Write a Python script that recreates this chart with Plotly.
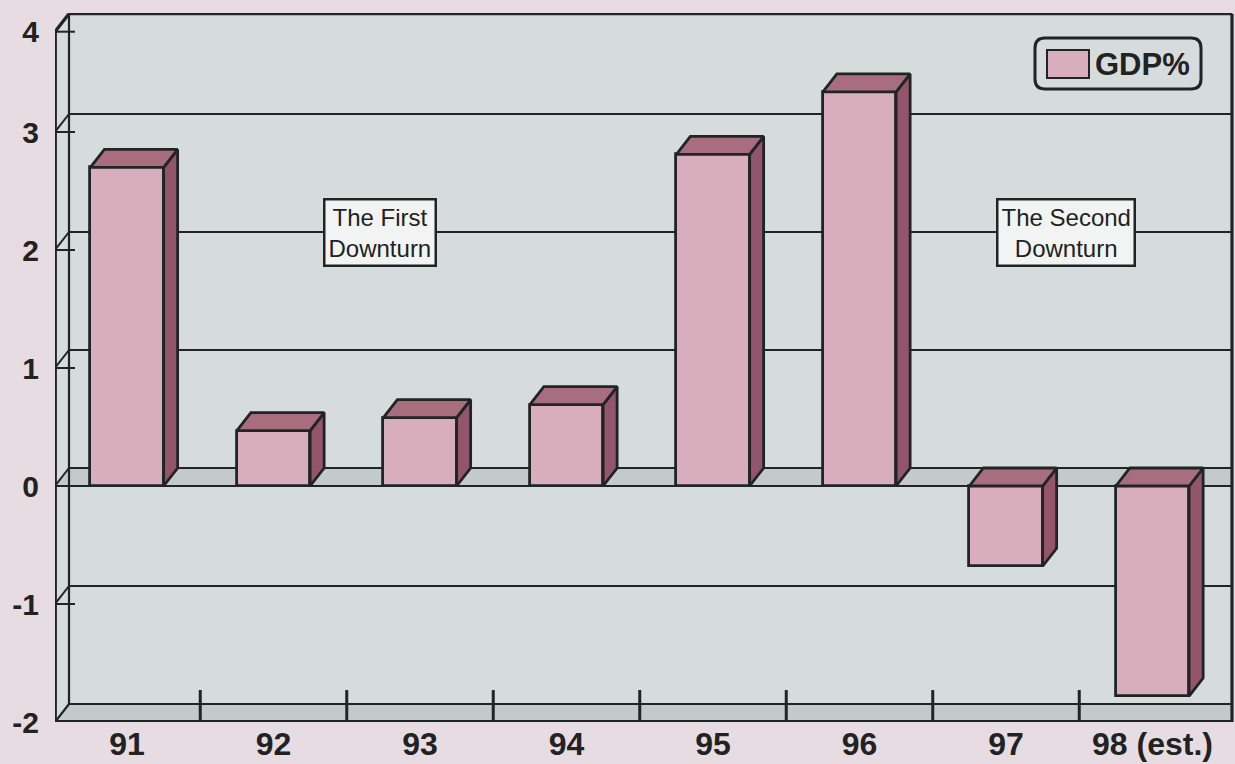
import plotly.graph_objects as go

# ---------------- data ----------------
categories = ["91", "92", "93", "94", "95", "96", "97", "98 (est.)"]
gdp_pct = [2.70, 0.47, 0.58, 0.69, 2.81, 3.34, -0.68, -1.78]
# the original chart prints its top label "4" at the top of the frame (3.85 on its scale)
y_tick_values = [-2, -1, 0, 1, 2, 3, 3.85]
y_tick_labels = ["-2", "-1", "0", "1", "2", "3", "4"]
series_name = "GDP%"
note_texts = ["The First<br>Downturn", "The Second<br>Downturn"]
note_x = [1.73, 6.41]
note_level = 2

# ---------------- geometry ----------------
W, H = 1235, 764
ML, MR, MT, MB = 55, 0, 13, 42
PW, PH = W - ML - MR, H - MT - MB
PX_PER_CAT = 146.5
PX_PER_UNIT = 118.0
CAT0_PX = 127 - ML
x_range = [-CAT0_PX / PX_PER_CAT, (PW - CAT0_PX) / PX_PER_CAT]
y_range = [-2, -2 + PH / PX_PER_UNIT]
DX = 14 / PX_PER_CAT
DY = 18 / PX_PER_UNIT
XL = x_range[0]
XR = (1232 - 127) / PX_PER_CAT
YB = y_tick_values[0]
YT = y_tick_values[-1]
BAR_W = 0.5

PAPER = "#E8DCE3"
WALL = "#D6DBDC"
BAND = "#C4CACA"
LINE = "#202424"
FRONT = "#D8AEBC"
TOP = "#A96D80"
SIDE = "#92556A"
FONT = "Liberation Sans, Arial, sans-serif"

shapes = []


def poly(pts, fill, lw=0, ref="x"):
    d = "M " + " L ".join(f"{x},{y}" for x, y in pts) + " Z"
    shapes.append(dict(type="path", path=d, xref=ref, yref=ref.replace("x", "y"),
                       fillcolor=fill, line=dict(width=lw, color=LINE),
                       layer="below"))


def seg(x0, y0, x1, y1, w=2.0):
    shapes.append(dict(type="line", x0=x0, y0=y0, x1=x1, y1=y1, xref="x", yref="y",
                       line=dict(color=LINE, width=w), layer="below"))


# walls
poly([(XL, YB), (XL, YT), (XL + DX, YT + DY), (XR, YT + DY), (XR, YB)], WALL)
# floor
poly([(XL, YB), (XR, YB), (XR, YB + DY), (XL + DX, YB + DY)], BAND)
# zero plane
poly([(XL, 0), (XR, 0), (XR, DY), (XL + DX, DY)], BAND)

# gridlines on back wall and left wall diagonals / ticks
for k in y_tick_values[1:-1]:
    seg(XL + DX, k + DY, XR, k + DY, 2.2)
    seg(XL, k, XL + DX, k + DY, 2.0)
    seg(XL, k, XL + 20 / PX_PER_CAT, k, 2.0)
# zero front line
seg(XL, 0, XR, 0, 2.2)
# box edges
seg(XL + DX, YB + DY, XL + DX, YT + DY, 2.2)
seg(XL, YB, XL + DX, YB + DY, 2.2)
seg(XL, YT, XL + DX, YT + DY, 3.2)
seg(XL, YT, XL + 20 / PX_PER_CAT, YT, 2.0)
seg(XL + DX, YT + DY, XR, YT + DY, 3.2)
seg(XR, YB, XR, YT + DY, 3.2)
seg(XL + DX, YB + DY, XR, YB + DY, 2.2)
seg(XL, YB, XR, YB, 3.8)
seg(XL, YB, XL, YT, 3.8)
# floor ticks between categories
for i in range(len(categories) - 1):
    seg(i + 0.5, YB, i + 0.5, YB + 32 / PX_PER_UNIT, 3.0)

# ---------------- bars ----------------
xs = list(range(len(categories)))
fig = go.Figure()
fig.add_trace(go.Bar(x=xs, y=gdp_pct, base=0, width=BAR_W, name=series_name,
                     marker=dict(color=FRONT, line=dict(color=LINE, width=2.8)),
                     showlegend=False, hoverinfo="skip"))

top_x, top_y, side_x, side_y = [], [], [], []
for x, v in zip(xs, gdp_pct):
    x0, x1 = x - BAR_W / 2, x + BAR_W / 2
    t = max(v, 0)
    b = min(v, 0)
    top_x += [x0, x1, x1 + DX, x0 + DX, x0, None]
    top_y += [t, t, t + DY, t + DY, t, None]
    side_x += [x1, x1, x1 + DX, x1 + DX, x1, None]
    side_y += [b, t, t + DY, b + DY, b, None]

fig.add_trace(go.Scatter(x=side_x, y=side_y, mode="lines", fill="toself",
                         fillcolor=SIDE, line=dict(color=LINE, width=2.8),
                         showlegend=False, hoverinfo="skip"))
fig.add_trace(go.Scatter(x=top_x, y=top_y, mode="lines", fill="toself",
                         fillcolor=TOP, line=dict(color=LINE, width=2.8),
                         showlegend=False, hoverinfo="skip"))

# ---------------- annotations ----------------
annotations = []
for txt, nx in zip(note_texts, note_x):
    annotations.append(dict(x=nx, y=note_level + DY, xref="x", yref="y", text=txt,
                            showarrow=False, font=dict(family=FONT, size=24, color="#222"),
                            bgcolor="#F2F4F3", bordercolor=LINE, borderwidth=2.5,
                            borderpad=3))


# legend (manual, rounded box)
def px_x(p):
    return (p - ML) / PW


def px_y(p):
    return (H - MB - p) / PH


bx0, bx1, by0, by1, r = 1035, 1201, 38, 89, 10
pts = (f"M {px_x(bx0 + r)},{px_y(by0)} L {px_x(bx1 - r)},{px_y(by0)} "
       f"Q {px_x(bx1)},{px_y(by0)} {px_x(bx1)},{px_y(by0 + r)} "
       f"L {px_x(bx1)},{px_y(by1 - r)} Q {px_x(bx1)},{px_y(by1)} {px_x(bx1 - r)},{px_y(by1)} "
       f"L {px_x(bx0 + r)},{px_y(by1)} Q {px_x(bx0)},{px_y(by1)} {px_x(bx0)},{px_y(by1 - r)} "
       f"L {px_x(bx0)},{px_y(by0 + r)} Q {px_x(bx0)},{px_y(by0)} {px_x(bx0 + r)},{px_y(by0)} Z")
shapes.append(dict(type="path", path=pts, xref="paper", yref="paper",
                   fillcolor=WALL, line=dict(color=LINE, width=3), layer="above"))
shapes.append(dict(type="rect", x0=px_x(1047), x1=px_x(1089), y0=px_y(78), y1=px_y(50),
                   xref="paper", yref="paper", fillcolor=FRONT,
                   line=dict(color=LINE, width=2), layer="above"))
annotations.append(dict(x=px_x(1093), y=px_y(64), xref="paper", yref="paper",
                        xanchor="left", yanchor="middle", text=series_name, showarrow=False,
                        font=dict(family=FONT, size=31, color="#222", weight="bold")))

fig.update_layout(
    width=W, height=H, autosize=False,
    margin=dict(l=ML, r=MR, t=MT, b=MB, pad=0, autoexpand=False),
    paper_bgcolor=PAPER, plot_bgcolor=PAPER,
    shapes=shapes, annotations=annotations, bargap=0, showlegend=False,
    xaxis=dict(range=x_range, showgrid=False, zeroline=False, showline=False,
               tickmode="array", tickvals=xs, ticktext=categories, ticks="",
               ticklabelstandoff=0, ticklabeloverflow="allow", automargin=False,
               tickfont=dict(family=FONT, size=32, color="#222", weight="bold"),
               fixedrange=True),
    yaxis=dict(range=y_range, showgrid=False, zeroline=False, showline=False,
               tickmode="array", tickvals=y_tick_values, ticktext=y_tick_labels,
               ticks="", ticklabelstandoff=15, ticklabeloverflow="allow", automargin=False,
               tickfont=dict(family=FONT, size=30, color="#222", weight="bold"),
               fixedrange=True),
)

fig.write_html("out.html", config={"displayModeBar": False})
